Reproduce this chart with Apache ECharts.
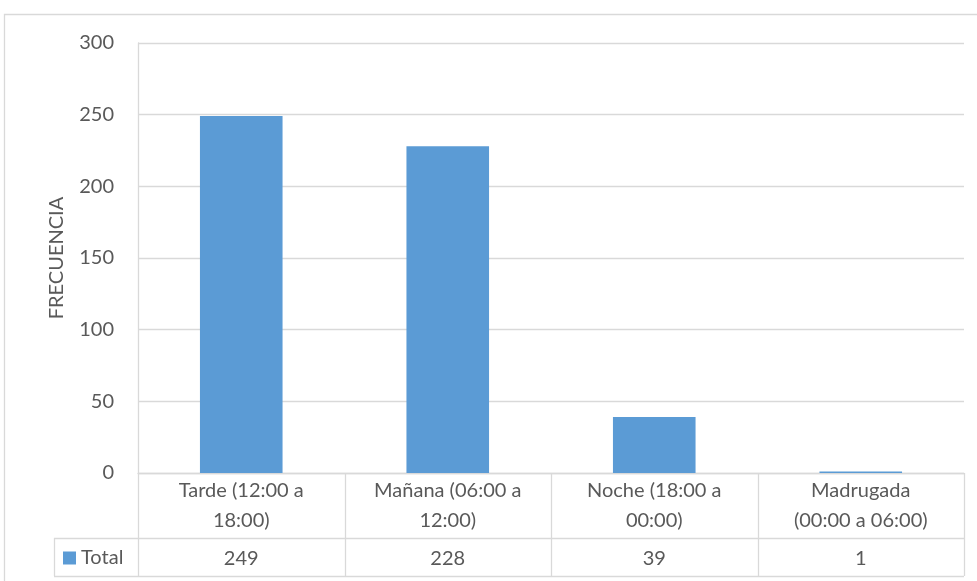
<!DOCTYPE html>
<html>
<head>
<meta charset="utf-8">
<script src="https://cdn.jsdelivr.net/npm/echarts@6/dist/echarts.min.js"></script>
<style>
  html, body { margin: 0; padding: 0; background: #ffffff; }
  #chart { width: 977px; height: 581px; }
</style>
</head>
<body>
<div id="chart"></div>
<script>
// Franja horaria y frecuencia de casos
const categories = [
  'Tarde (12:00 a\n18:00)',
  'Mañana (06:00 a\n12:00)',
  'Noche (18:00 a\n00:00)',
  'Madrugada\n(00:00 a 06:00)'
];
const totals = [249, 228, 39, 1];
const seriesName = 'Total';
const yTicks = { min: 0, max: 300, interval: 50 };
const axisTitle = 'FRECUENCIA';

const W = 977, H = 581;
const gridBox = { left: 138, right: 13, top: 43, bottom: 108 };
const plotRight = W - gridBox.right;
const plotBottom = H - gridBox.bottom;
const rowSplit = 538;      // line between category row and value row
const tableBottom = 576;   // bottom edge of data table
const legendCellLeft = 54;

const lineColor = '#d9d9d9';
const textColor = '#595959';
const barColor = '#5b9bd5';
const font = 'Lato, "Open Sans", sans-serif';
const fontSize = 20;

const chart = echarts.init(document.getElementById('chart'), null, { renderer: 'canvas' });

// Table grid lines: column boundaries follow the category bands of the grid
const bandW = (plotRight - gridBox.left) / categories.length;
const tableLines = [];
const seg = (x1, y1, x2, y2) => tableLines.push({
  type: 'line', silent: true,
  shape: { x1, y1, x2, y2 },
  style: { stroke: lineColor, lineWidth: 1.3 }
});
for (let i = 0; i <= categories.length; i++) {
  const x = Math.round(gridBox.left + i * bandW) + 0.5;
  seg(x, plotBottom, x, tableBottom);
}
seg(legendCellLeft + 0.5, rowSplit, legendCellLeft + 0.5, tableBottom);
seg(legendCellLeft, rowSplit + 0.5, plotRight, rowSplit + 0.5);
seg(legendCellLeft, tableBottom + 0.5, plotRight, tableBottom + 0.5);
// outer chart border
tableLines.push({
  type: 'rect', silent: true,
  shape: { x: 4.5, y: 14.5, width: W + 10, height: H + 10 },
  style: { fill: null, stroke: lineColor, lineWidth: 1.3 }
});

chart.setOption({
  animation: false,
  backgroundColor: '#ffffff',
  textStyle: { fontFamily: font },
  grid: { left: gridBox.left, right: gridBox.right, top: gridBox.top, bottom: gridBox.bottom, containLabel: false },
  legend: {
    data: [seriesName],
    left: 58, top: 543,
    itemWidth: 13, itemHeight: 13, itemGap: 4,
    icon: 'rect',
    textStyle: { color: textColor, fontSize: fontSize, fontFamily: font, padding: [0, 0, 0, 0] }
  },
  xAxis: [
    {
      type: 'category',
      data: categories,
      position: 'bottom',
      axisLine: { show: true, lineStyle: { color: lineColor, width: 1.3 } },
      axisTick: { show: false },
      axisLabel: {
        color: textColor, fontSize: fontSize, fontFamily: font,
        lineHeight: 30, margin: 3, interval: 0, align: 'center'
      },
      splitLine: { show: false }
    },
    {
      type: 'category',
      data: totals.map(String),
      position: 'bottom',
      offset: rowSplit - plotBottom,
      axisLine: { show: false },
      axisTick: { show: false },
      axisLabel: { color: textColor, fontSize: fontSize, fontFamily: font, margin: 11, interval: 0 },
      splitLine: { show: false }
    }
  ],
  yAxis: {
    type: 'value',
    min: yTicks.min, max: yTicks.max, interval: yTicks.interval,
    name: axisTitle,
    nameLocation: 'middle',
    nameGap: 71,
    nameRotate: 90,
    nameTextStyle: { color: textColor, fontSize: fontSize, fontFamily: font },
    axisLine: { show: true, lineStyle: { color: lineColor, width: 1.3 } },
    axisTick: { show: false },
    axisLabel: { color: textColor, fontSize: fontSize, fontFamily: font, margin: 24 },
    splitLine: { show: true, lineStyle: { color: lineColor, width: 1.3 } }
  },
  series: [{
    name: seriesName,
    type: 'bar',
    data: totals,
    barWidth: '40%',
    itemStyle: { color: barColor }
  }],
  graphic: { elements: tableLines }
});
</script>
</body>
</html>
